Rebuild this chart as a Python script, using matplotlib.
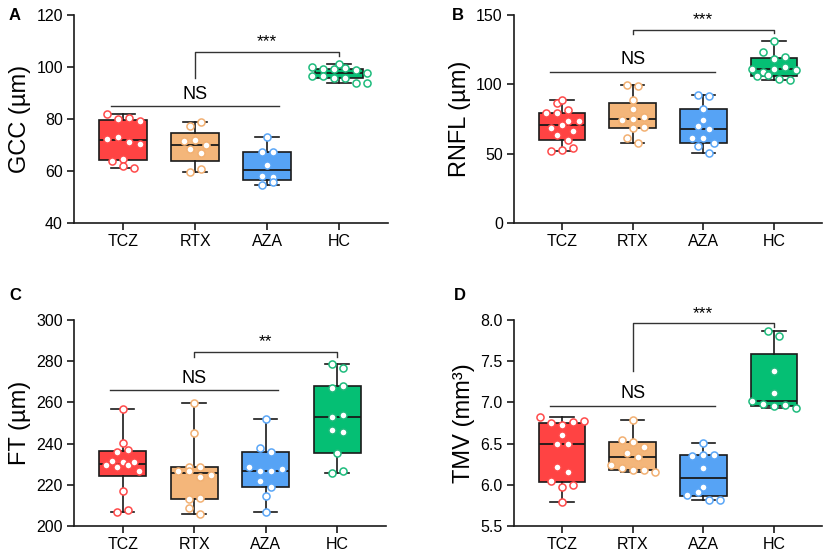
import numpy as np
import matplotlib
matplotlib.use("Agg")
import matplotlib.pyplot as plt

plt.rcParams['font.family'] = ['Liberation Sans', 'DejaVu Sans']

groups = ["TCZ", "RTX", "AZA", "HC"]
box_colors = ["#FF4343", "#F4B67A", "#56A3F5", "#05BF74"]
edge_colors = ["#FF4A4A", "#F2B072", "#5AA6F7", "#1DBB7C"]

# panel A - GCC
gcc = {
    "TCZ": [81.9, 79.9, 80.5, 79.2, 72.2, 73.2, 71.3, 70.3, 64.0, 64.6, 62.0, 61.0],
    "RTX": [77.3, 79.0, 71.7, 71.9, 68.3, 70.0, 66.8, 59.7, 60.8],
    "AZA": [73.2, 67.2, 67.4, 62.3, 58.1, 57.8, 54.6, 55.9],
    "HC": [101.2, 99.9, 99.1, 99.2, 99.5, 98.8, 97.6, 96.7, 96.7, 95.9, 95.6, 94.0, 94.0],
}
# panel B - RNFL
rnfl = {
    "TCZ": [86.8, 88.5, 79.0, 79.0, 81.8, 73.6, 73.6, 68.7, 70.9, 66.3, 63.2, 59.5, 51.9, 52.3, 54.0],
    "RTX": [99.4, 98.6, 88.5, 82.0, 73.6, 74.5, 75.2, 76.5, 68.3, 69.5, 61.5, 57.9],
    "AZA": [92.6, 91.4, 82.5, 74.5, 69.9, 68.0, 61.5, 61.5, 55.4, 57.9, 50.4],
    "HC": [131.2, 123.5, 118.0, 119.4, 110.7, 109.0, 110.9, 112.6, 110.5, 105.9, 106.6, 103.7, 103.0],
}
# panel C - FT
ft = {
    "TCZ": [256.8, 240.1, 236.1, 236.9, 231.7, 229.6, 230.9, 228.8, 229.6, 230.9, 226.7, 217.0, 206.6, 207.8],
    "RTX": [259.6, 245.0, 226.7, 228.8, 228.8, 226.7, 223.6, 224.8, 213.1, 213.7, 208.6, 205.7],
    "AZA": [251.8, 237.7, 235.8, 228.8, 226.7, 226.7, 227.7, 221.8, 218.8, 214.6, 206.6],
    "HC": [278.6, 276.9, 266.8, 268.0, 252.8, 253.9, 246.6, 245.8, 235.6, 225.6, 226.8],
}
# panel D - TMV
tmv = {
    "TCZ": [6.82, 6.75, 6.73, 6.76, 6.77, 6.60, 6.49, 6.49, 6.22, 6.16, 6.05, 5.97, 6.00, 5.79],
    "RTX": [6.79, 6.54, 6.52, 6.46, 6.39, 6.34, 6.24, 6.20, 6.18, 6.18, 6.15],
    "AZA": [6.51, 6.35, 6.36, 6.36, 6.20, 5.97, 5.88, 5.91, 5.82, 5.82],
    "HC": [7.86, 7.80, 7.38, 7.11, 7.02, 6.98, 6.95, 6.97, 6.93],
}

panels = [
    ("A", gcc, "GCC (µm)", (40, 120), np.arange(40, 121, 20), "%d",
     # NS line y, NS text y, star bracket y, left leg end, right leg end, star label, star text y
     85.0, 86.0, 105.9, 95.7, 104.3, "***", 107.0),
    ("B", rnfl, "RNFL (µm)", (0, 150), np.arange(0, 151, 50), "%d",
     109.0, 112.0, 139.1, 136.3, 136.7, "***", 141.5),
    ("C", ft, "FT (µm)", (200, 300), np.arange(200, 301, 20), "%d",
     266.0, 267.5, 284.6, 282.2, 282.2, "**", 286.0),
    ("D", tmv, "TMV (mm³)", (5.5, 8.0), np.arange(5.5, 8.01, 0.5), "%.1f",
     6.96, 7.00, 7.96, 7.38, 7.92, "***", 7.99),
]

# axes rectangles in figure fractions (left, bottom, width, height)
rects = [
    (0.0893, 0.5975, 0.379, 0.3755),
    (0.620, 0.5975, 0.3715, 0.3755),
    (0.0893, 0.0505, 0.376, 0.372),
    (0.620, 0.0505, 0.3715, 0.372),
]
letter_pos = [(9, 15), (452, 15), (9, 295), (454, 295)]

W, H = 829, 554
fig = plt.figure(figsize=(W / 100, H / 100), dpi=100)


def row_scatter(vals, px_per_unit, step, diam=8.0):
    # group points into rows of close values and spread each row evenly around the centre
    vals = np.asarray(vals, dtype=float)
    order = np.argsort(vals, kind="stable")
    rows = []
    for i in order:
        if rows and (vals[i] - vals[rows[-1][0]]) * px_per_unit < diam:
            rows[-1].append(i)
        else:
            rows.append([i])
    offs = np.zeros(len(vals))
    for r in rows:
        r = sorted(r)  # keep reading order inside the row
        n = len(r)
        for k, i in enumerate(r):
            offs[i] = (k - (n - 1) / 2) * step
    return offs


for (letter, data, ylabel, ylim, yticks, fmt, ns_y, ns_ty, st_y, st_l, st_r, st_lab, st_ty), rect, lp in zip(panels, rects, letter_pos):
    ax = fig.add_axes(rect)
    stats = []
    for g in groups:
        v = np.array(data[g])
        q1, med, q3 = np.percentile(v, [25, 50, 75], method="weibull")
        stats.append(dict(med=med, q1=q1, q3=q3, whislo=v.min(), whishi=v.max(), fliers=[]))
    pos = np.arange(len(groups))
    bp = ax.bxp(stats, positions=pos, widths=0.66, capwidths=0.33, patch_artist=True,
                showfliers=False,
                boxprops=dict(edgecolor="#1a1a1a", linewidth=1.2),
                whiskerprops=dict(color="#1a1a1a", linewidth=1.2),
                capprops=dict(color="#1a1a1a", linewidth=1.2),
                medianprops=dict(color="#1a1a1a", linewidth=1.3))
    for patch, c in zip(bp["boxes"], box_colors):
        patch.set_facecolor(c)

    ax.set_xlim(-0.68, 3.68)
    ax.set_ylim(*ylim)
    px_per_unit = rect[3] * H / (ylim[1] - ylim[0])
    px_per_cat = rect[2] * W / 4.36
    for i, g in enumerate(groups):
        v = np.array(data[g])
        offs = row_scatter(v, px_per_unit, step=11.0 / px_per_cat)
        ax.scatter(pos[i] + offs, v, s=26, facecolor="white", edgecolor=edge_colors[i],
                   linewidth=1.1, zorder=5, clip_on=False)

    # significance lines
    ax.plot([-0.17, 2.17], [ns_y, ns_y], color="#333333", lw=1.0)
    ax.text(1.0, ns_ty, "NS", ha="center", va="bottom", fontsize=13)
    ax.plot([1.0, 1.0, 3.0, 3.0], [st_l, st_y, st_y, st_r], color="#333333", lw=1.0)
    ax.text(2.0, st_ty, st_lab, ha="center", va="bottom", fontsize=12.5)

    ax.set_xticks(pos)
    ax.set_xticklabels(groups, fontsize=11.5)
    ax.set_yticks(yticks)
    ax.set_yticklabels([fmt % t for t in yticks], fontsize=11.5)
    ax.set_ylabel(ylabel, fontsize=17, labelpad=4)
    for s in ["top", "right"]:
        ax.spines[s].set_visible(False)
    for s in ["left", "bottom"]:
        ax.spines[s].set_linewidth(1.2)
        ax.spines[s].set_color("#1a1a1a")
    ax.tick_params(width=1.2, length=5, color="#1a1a1a", pad=3)

    fig.text(lp[0] / W, 1 - lp[1] / H, letter, fontsize=12, fontweight="bold",
             ha="left", va="center")

fig.savefig("out.png", dpi=100)
